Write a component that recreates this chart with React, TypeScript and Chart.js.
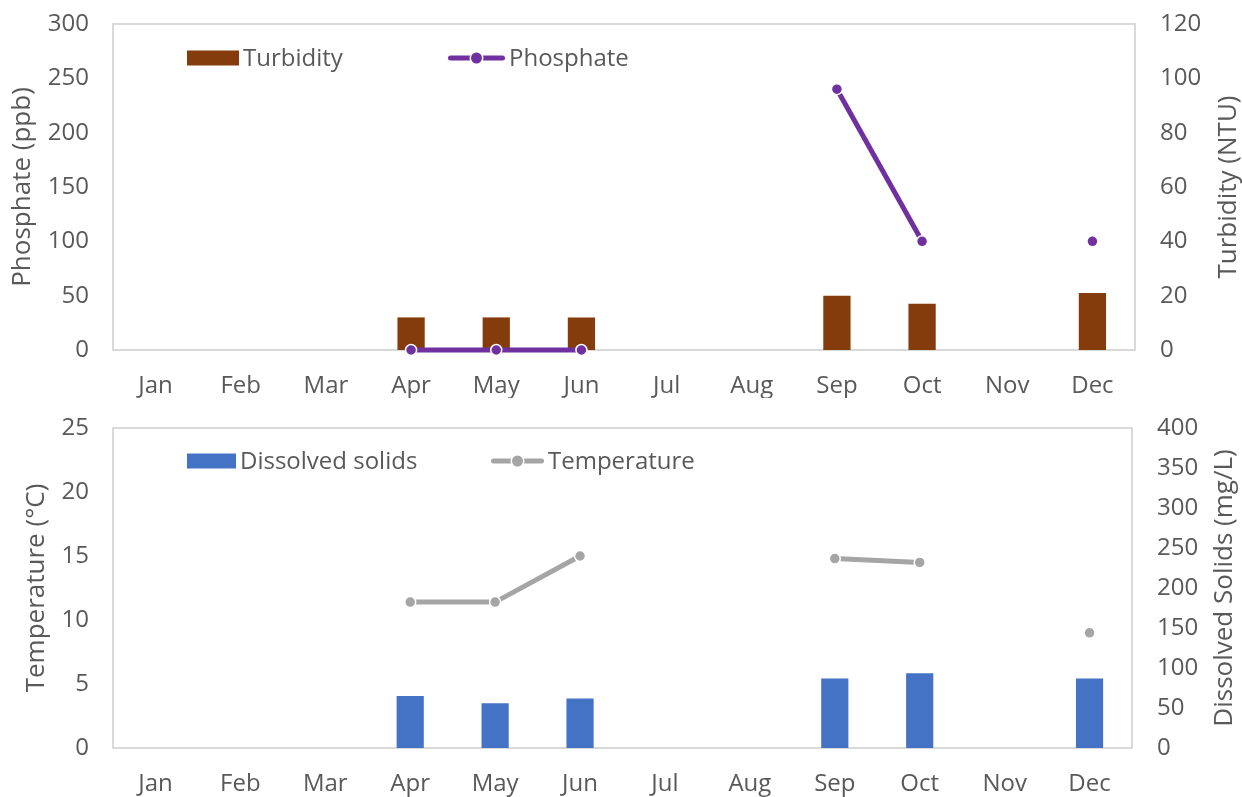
import React, { useEffect, useRef } from "react";
import { Chart, registerables } from "chart.js";

Chart.register(...registerables);

const months = ["Jan", "Feb", "Mar", "Apr", "May", "Jun", "Jul", "Aug", "Sep", "Oct", "Nov", "Dec"];
const turbidity = [null, null, null, 12, 12, 12, null, null, 20, 17, null, 21];
const phosphate = [null, null, null, 0, 0, 0, null, null, 240, 100, null, 100];
const dissolvedSolids = [null, null, null, 65, 56, 62, null, null, 87, 93.5, null, 87];
const temperature = [null, null, null, 11.4, 11.4, 15, null, null, 14.8, 14.5, null, 9];

const phosphateAxis = { min: 0, max: 300, step: 50 };
const turbidityAxis = { min: 0, max: 120, step: 20 };
const temperatureAxis = { min: 0, max: 25, step: 5 };
const solidsAxis = { min: 0, max: 400, step: 50 };

const TEXT = "#595959";
const FONT = "'Open Sans', 'Noto Sans', sans-serif";

const decorPlugin = {
  id: "decor",
  beforeDatasetsDraw(chart: any) {
    const { ctx, chartArea: a } = chart;
    ctx.save();
    ctx.strokeStyle = "#D9D9D9";
    ctx.lineWidth = 2;
    ctx.strokeRect(a.left, a.top, a.right - a.left, a.bottom - a.top);
    ctx.restore();
  },
  afterDraw(chart: any, _args: any, opts: any) {
    const { ctx, chartArea: a } = chart;
    ctx.save();
    // right axis title (reads bottom-to-top)
    ctx.font = `${opts.titleSize}px ${FONT}`;
    ctx.fillStyle = TEXT;
    ctx.textAlign = "center";
    ctx.textBaseline = "middle";
    ctx.translate(a.right + opts.rightTitleOffset, (a.top + a.bottom) / 2);
    ctx.rotate(-Math.PI / 2);
    ctx.fillText(opts.rightTitle, 0, 0);
    ctx.restore();

    // legend
    ctx.save();
    ctx.font = `24px ${FONT}`;
    ctx.textBaseline = "middle";
    ctx.textAlign = "left";
    const cy = a.top + opts.legendY;
    (opts.items as any[]).forEach((it) => {
      const x = a.left + it.x;
      if (it.type === "bar") {
        ctx.fillStyle = it.color;
        ctx.fillRect(x, cy - 7.5, it.w, 15);
      } else {
        ctx.strokeStyle = it.color;
        ctx.lineWidth = 5;
        ctx.lineCap = "round";
        ctx.beginPath();
        ctx.moveTo(x + 2.5, cy);
        ctx.lineTo(x + it.w - 2.5, cy);
        ctx.stroke();
        ctx.beginPath();
        ctx.arc(x + it.w / 2, cy, 7, 0, Math.PI * 2);
        ctx.fillStyle = "#FFFFFF";
        ctx.fill();
        ctx.beginPath();
        ctx.arc(x + it.w / 2, cy, 5.5, 0, Math.PI * 2);
        ctx.fillStyle = it.color;
        ctx.fill();
      }
      ctx.fillStyle = TEXT;
      ctx.fillText(it.label, x + it.w + 4, cy + 1);
    });
    ctx.restore();
  },
};

function makeConfig(p: any) {
  return {
    type: "bar",
    data: {
      labels: months,
      datasets: [
        {
          type: "line",
          label: p.lineLabel,
          data: p.lineData,
          yAxisID: "yL",
          borderColor: p.lineColor,
          backgroundColor: p.lineColor,
          borderWidth: 5,
          pointRadius: 5.5,
          pointBorderWidth: 1.5,
          pointBorderColor: "#FFFFFF",
          pointBackgroundColor: p.lineColor,
          spanGaps: false,
          tension: 0,
          clip: false,
          order: 0,
        },
        {
          type: "bar",
          label: p.barLabel,
          data: p.barData,
          yAxisID: "yR",
          backgroundColor: p.barColor,
          borderWidth: 0,
          categoryPercentage: 1,
          barPercentage: 0.32,
          order: 1,
        },
      ],
    },
    options: {
      responsive: false,
      maintainAspectRatio: false,
      animation: false,
      layout: { padding: { top: p.padTop, left: 0, right: 0, bottom: 0 } },
      plugins: {
        legend: { display: false },
        tooltip: { enabled: false },
        decor: {
          rightTitle: p.rightTitle,
          rightTitleOffset: p.rightTitleOffset,
          titleSize: 26,
          legendY: p.legendY,
          items: [
            { type: "bar", label: p.barLabel, color: p.barColor, x: 74, w: p.barLegendW },
            { type: "line", label: p.lineLabel, color: p.lineColor, x: p.lineLegendX, w: p.lineLegendW },
          ],
        },
      },
      scales: {
        x: {
          offset: true,
          grid: { display: false, drawTicks: false },
          border: { display: false },
          ticks: { color: TEXT, font: { family: FONT, size: 24 }, padding: 22, maxRotation: 0 },
          afterFit: (s: any) => {
            s.height = p.xHeight;
            s.paddingLeft = 0;
            s.paddingRight = 0;
          },
        },
        yL: {
          position: "left",
          min: p.leftAxis.min,
          max: p.leftAxis.max,
          grid: { display: false, drawTicks: false },
          border: { display: false },
          ticks: { stepSize: p.leftAxis.step, color: TEXT, font: { family: FONT, size: 24 }, padding: 24 },
          title: {
            display: true,
            text: p.leftTitle,
            color: TEXT,
            font: { family: FONT, size: 26 },
            padding: { top: p.leftTitlePad, bottom: 0 },
          },
          afterFit: (s: any) => {
            s.width = 113;
            s.paddingTop = 0;
            s.paddingBottom = 0;
          },
        },
        yR: {
          position: "right",
          min: p.rightAxis.min,
          max: p.rightAxis.max,
          grid: { display: false, drawTicks: false },
          border: { display: false },
          ticks: { stepSize: p.rightAxis.step, color: TEXT, font: { family: FONT, size: 24 }, padding: 25 },
          afterFit: (s: any) => {
            s.width = p.rightWidth;
            s.paddingTop = 0;
            s.paddingBottom = 0;
          },
        },
      },
    },
    plugins: [decorPlugin],
  };
}

function ChartPanel({ cfg, height }: { cfg: any; height: number }) {
  const ref = useRef<HTMLCanvasElement | null>(null);
  useEffect(() => {
    if (!ref.current) return;
    const chart = new Chart(ref.current, makeConfig(cfg) as any);
    return () => chart.destroy();
  }, []);
  return <canvas ref={ref} width={1242} height={height} style={{ display: "block", width: 1242, height }} />;
}

const topCfg = {
  lineLabel: "Phosphate",
  lineData: phosphate,
  lineColor: "#7030A0",
  barLabel: "Turbidity",
  barData: turbidity,
  barColor: "#843C0C",
  leftAxis: phosphateAxis,
  rightAxis: turbidityAxis,
  leftTitle: "Phosphate (ppb)",
  rightTitle: "Turbidity (NTU)",
  leftTitlePad: 7,
  rightTitleOffset: 94,
  rightWidth: 107,
  padTop: 24,
  xHeight: 48,
  legendY: 34,
  barLegendW: 52,
  lineLegendX: 335,
  lineLegendW: 57,
};

const bottomCfg = {
  lineLabel: "Temperature",
  lineData: temperature,
  lineColor: "#A5A5A5",
  barLabel: "Dissolved solids",
  barData: dissolvedSolids,
  barColor: "#4472C4",
  leftAxis: temperatureAxis,
  rightAxis: solidsAxis,
  leftTitle: "Temperature (°C)",
  rightTitle: "Dissolved Solids (mg/L)",
  leftTitlePad: 21,
  rightTitleOffset: 93,
  rightWidth: 110,
  padTop: 30,
  xHeight: 49,
  legendY: 33,
  barLegendW: 49,
  lineLegendX: 378,
  lineLegendW: 53,
};

export default function App() {
  return (
    <div style={{ position: "absolute", left: 0, top: 0, width: 1242, height: 797, background: "#FFFFFF" }}>
      <ChartPanel cfg={topCfg} height={398} />
      <ChartPanel cfg={bottomCfg} height={399} />
    </div>
  );
}
